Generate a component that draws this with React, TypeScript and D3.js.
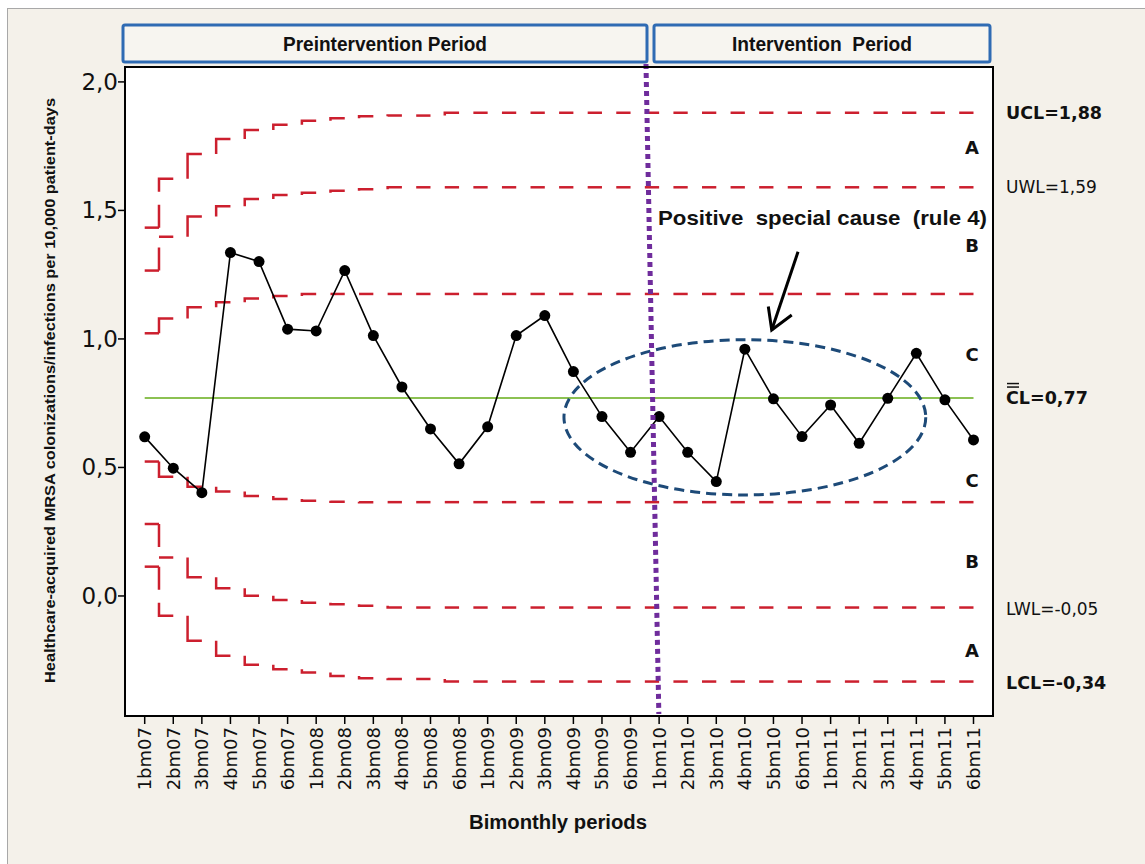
import React from 'react';
import * as d3 from 'd3';

const categories = [
  '1bm07', '2bm07', '3bm07', '4bm07', '5bm07', '6bm07',
  '1bm08', '2bm08', '3bm08', '4bm08', '5bm08', '6bm08',
  '1bm09', '2bm09', '3bm09', '4bm09', '5bm09', '6bm09',
  '1bm10', '2bm10', '3bm10', '4bm10', '5bm10', '6bm10',
  '1bm11', '2bm11', '3bm11', '4bm11', '5bm11', '6bm11',
];

const rates = [
  0.619, 0.497, 0.402, 1.336, 1.301, 1.038,
  1.031, 1.266, 1.013, 0.813, 0.65, 0.514,
  0.658, 1.013, 1.091, 0.873, 0.698, 0.559,
  0.698, 0.559, 0.445, 0.96, 0.767, 0.62,
  0.743, 0.594, 0.769, 0.944, 0.763, 0.607,
];

const centerLine = 0.77;

const ucl = [
  1.433, 1.623, 1.72, 1.778, 1.813, 1.833, 1.849, 1.859, 1.866, 1.869, 1.869,
  1.88, 1.88, 1.88, 1.88, 1.88, 1.88, 1.88, 1.88, 1.88, 1.88, 1.88, 1.88, 1.88,
  1.88, 1.88, 1.88, 1.88, 1.88, 1.88,
];
const uwl = [
  1.266, 1.398, 1.476, 1.516, 1.544, 1.56, 1.569, 1.577, 1.582,
  1.59, 1.59, 1.59, 1.59, 1.59, 1.59, 1.59, 1.59, 1.59, 1.59, 1.59, 1.59,
  1.59, 1.59, 1.59, 1.59, 1.59, 1.59, 1.59, 1.59, 1.59,
];
const upperSigma = [
  1.022, 1.08, 1.123, 1.143, 1.157, 1.167,
  1.175, 1.175, 1.175, 1.175, 1.175, 1.175, 1.175, 1.175, 1.175, 1.175, 1.175, 1.175,
  1.175, 1.175, 1.175, 1.175, 1.175, 1.175, 1.175, 1.175, 1.175, 1.175, 1.175, 1.175,
];
const lowerSigma = [
  0.523, 0.464, 0.425, 0.406, 0.389, 0.377, 0.37, 0.367,
  0.365, 0.365, 0.365, 0.365, 0.365, 0.365, 0.365, 0.365, 0.365, 0.365, 0.365,
  0.365, 0.365, 0.365, 0.365, 0.365, 0.365, 0.365, 0.365, 0.365, 0.365, 0.365,
];
const lwl = [
  0.28, 0.15, 0.073, 0.03, 0.001, -0.016, -0.026, -0.032, -0.038,
  -0.045, -0.045, -0.045, -0.045, -0.045, -0.045, -0.045, -0.045, -0.045, -0.045,
  -0.045, -0.045, -0.045, -0.045, -0.045, -0.045, -0.045, -0.045, -0.045, -0.045, -0.045,
];
const lcl = [
  0.114, -0.077, -0.174, -0.233, -0.268, -0.285, -0.298, -0.311, -0.32, -0.323, -0.323,
  -0.333, -0.333, -0.333, -0.333, -0.333, -0.333, -0.333, -0.333, -0.333, -0.333,
  -0.333, -0.333, -0.333, -0.333, -0.333, -0.333, -0.333, -0.333, -0.333,
];

const yTicks = [0, 0.5, 1.0, 1.5, 2.0];
const yTickLabels = ['0,0', '0,5', '1,0', '1,5', '2,0'];

const limitLabels = [
  { text: 'UCL=1,88', value: 1.88, bold: true },
  { text: 'UWL=1,59', value: 1.59, bold: false },
  { text: 'CL=0,77', value: 0.77, bold: true, bar: true },
  { text: 'LWL=-0,05', value: -0.05, bold: false },
  { text: 'LCL=-0,34', value: -0.34, bold: true },
];

const zoneLetters = ['A', 'B', 'C', 'C', 'B', 'A'];
const zoneLetterValues = [1.743, 1.362, 0.938, 0.451, 0.136, -0.214];

const periods = [
  { label: 'Preintervention Period', x0: 123, x1: 647, textLen: 204 },
  { label: 'Intervention  Period', x0: 654, x1: 990, textLen: 180 },
];

const W = 1145;
const H = 864;
const plotLeft = 125;
const plotRight = 993;
const plotTop = 67;
const plotBottom = 716;

const RED = '#cc1f2e';

export default function App() {
  const x = d3.scalePoint<string>().domain(categories).range([144.7, 973.5]);
  const xi = d3.scaleLinear().domain([0, categories.length - 1]).range([144.7, 973.5]);
  const y = d3.scaleLinear().domain([-0.467, 2.058]).range([plotBottom, plotTop]);

  const line = d3
    .line<number>()
    .x((_, i) => x(categories[i]) as number)
    .y((d) => y(d));

  const stepPieces = (levels: number[]) => {
    const out: string[] = [];
    const n = levels.length;
    const xs = levels.map((_, i) => x(categories[i]) as number);
    const mid0 = (xs[0] + xs[1]) / 2;
    out.push(`M${xs[0]},${y(levels[0])}H${mid0}`);
    for (let i = 1; i < n; i++) {
      const mx = (xs[i - 1] + xs[i]) / 2;
      const y0 = y(levels[i - 1]);
      const y1 = y(levels[i]);
      const V = Math.abs(y1 - y0);
      const s = y1 > y0 ? 1 : -1;
      const end = i === n - 1 ? xs[i] : Math.min(mx + 21.5, xs[i]);
      let d = '';
      if (V <= 28) {
        d = `M${mx},${y0}V${y1}H${end}`;
      } else {
        d = `M${mx},${y0}V${y0 + s * 23}`;
        if (V > 36) d += `M${mx},${y0 + s * 36}V${y1}`;
        else d += `M${mx},${y1}`;
        d += `H${end}`;
      }
      out.push(d);
    }
    return out;
  };

  const limitSeries = [ucl, uwl, upperSigma, lowerSigma, lwl, lcl];

  const ellipseCx = xi(21.0);
  const ellipseCy = y(0.695);
  const ellipseRx = xi(6.33) - xi(0);
  const ellipseRy = y(0) - y(0.302);

  const arrowTail = [xi(22.86), y(1.339)];
  const arrowTip = [xi(21.94), y(1.035)];
  const headA = [xi(21.82), y(1.126)];
  const headB = [xi(22.64), y(1.093)];

  const sans = "'DejaVu Sans', Verdana, sans-serif";
  const arial = "'Liberation Sans', Arial, sans-serif";

  return (
    <div style={{ position: 'absolute', left: 0, top: 0 }}>
      <svg width={W} height={H} viewBox={`0 0 ${W} ${H}`} style={{ display: 'block' }}>
        <rect x={0} y={0} width={W} height={H} fill="#ffffff" />
        <rect x={7.5} y={8.5} width={W + 10} height={H + 10} fill="#f4f1ea" stroke="#a8a8a8" strokeWidth={1} />

        {periods.map((p) => (
          <g key={p.label}>
            <rect x={p.x0} y={25} width={p.x1 - p.x0} height={37} fill="#f7f5f0" stroke="#2f6bb3" strokeWidth={3} rx={2} />
            <text
              x={(p.x0 + p.x1) / 2}
              y={44}
              textAnchor="middle"
              dominantBaseline="central"
              fontFamily={arial}
              fontWeight="bold"
              fontSize={20}
              textLength={p.textLen}
              lengthAdjust="spacingAndGlyphs"
              style={{ whiteSpace: 'pre' }}
              fill="#111"
            >
              {p.label}
            </text>
          </g>
        ))}

        <rect x={plotLeft} y={plotTop} width={plotRight - plotLeft} height={plotBottom - plotTop} fill="#ffffff" />

        {limitSeries.map((levels, k) => (
          <g key={k}>
            {stepPieces(levels).map((d, j) => (
              <path key={j} d={d} fill="none" stroke={RED} strokeWidth={2.5} strokeLinecap="butt" />
            ))}
          </g>
        ))}

        <line
          x1={x(categories[0])}
          x2={x(categories[categories.length - 1])}
          y1={y(centerLine)}
          y2={y(centerLine)}
          stroke="#8cc152"
          strokeWidth={2}
        />

        <path d={line(rates) || ''} fill="none" stroke="#000" strokeWidth={1.6} />
        {rates.map((v, i) => (
          <circle key={i} cx={x(categories[i])} cy={y(v)} r={5.5} fill="#000" />
        ))}

        <ellipse
          cx={ellipseCx}
          cy={ellipseCy}
          rx={ellipseRx}
          ry={ellipseRy}
          fill="none"
          stroke="#1d4a78"
          strokeWidth={3}
          strokeDasharray="10 6"
        />

        <line
          x1={xi(17.54)}
          y1={plotTop - 3}
          x2={xi(17.99)}
          y2={plotBottom - 2}
          stroke="#6f2c9c"
          strokeWidth={5}
          strokeDasharray="5 4"
        />

        <rect x={plotLeft} y={plotTop} width={plotRight - plotLeft} height={plotBottom - plotTop} fill="none" stroke="#000" strokeWidth={2} />

        <line x1={arrowTail[0]} y1={arrowTail[1]} x2={arrowTip[0]} y2={arrowTip[1]} stroke="#000" strokeWidth={3} />
        <polyline
          points={`${headA[0]},${headA[1]} ${arrowTip[0]},${arrowTip[1]} ${headB[0]},${headB[1]}`}
          fill="none"
          stroke="#000"
          strokeWidth={3}
        />
        <text
          x={658}
          y={217}
          dominantBaseline="central"
          fontFamily={arial}
          fontWeight="bold"
          fontSize={21}
          textLength={329}
          lengthAdjust="spacingAndGlyphs"
          style={{ whiteSpace: 'pre' }}
          fill="#111"
        >
          {'Positive  special cause  (rule 4)'}
        </text>

        {yTicks.map((t, i) => (
          <g key={t}>
            <line x1={plotLeft - 7} x2={plotLeft} y1={y(t)} y2={y(t)} stroke="#000" strokeWidth={1.5} />
            <text
              x={plotLeft - 7}
              y={y(t)}
              textAnchor="end"
              dominantBaseline="central"
              fontFamily={sans}
              fontSize={23}
              fill="#111"
            >
              {yTickLabels[i]}
            </text>
          </g>
        ))}

        {categories.map((c) => {
          const cx = x(c) as number;
          return (
            <g key={c}>
              <line x1={cx} x2={cx} y1={plotBottom} y2={plotBottom + 8} stroke="#000" strokeWidth={1.5} />
              <text
                transform={`translate(${cx},${plotBottom + 11}) rotate(-90)`}
                textAnchor="end"
                dominantBaseline="central"
                fontFamily={sans}
                fontSize={18}
                fill="#111"
              >
                {c}
              </text>
            </g>
          );
        })}

        <text
          x={558}
          y={822}
          textAnchor="middle"
          dominantBaseline="central"
          fontFamily={arial}
          fontWeight="bold"
          fontSize={20}
          textLength={178}
          lengthAdjust="spacingAndGlyphs"
          fill="#111"
        >
          Bimonthly periods
        </text>
        <text
          transform={`translate(50,${(98 + 683) / 2}) rotate(-90)`}
          textAnchor="middle"
          dominantBaseline="central"
          fontFamily={arial}
          fontWeight="bold"
          fontSize={14.5}
          textLength={585}
          lengthAdjust="spacingAndGlyphs"
          fill="#111"
        >
          Healthcare-acquired MRSA colonizations/infections per 10,000 patient-days
        </text>

        {zoneLetters.map((z, i) => (
          <text
            key={i}
            x={972}
            y={y(zoneLetterValues[i])}
            textAnchor="middle"
            dominantBaseline="central"
            fontFamily={sans}
            fontWeight="bold"
            fontSize={18}
            fill="#111"
          >
            {z}
          </text>
        ))}

        {limitLabels.map((l) => (
          <g key={l.text}>
            <text
              x={1006}
              y={y(l.value)}
              dominantBaseline="central"
              fontFamily={sans}
              fontWeight={l.bold ? 'bold' : 'normal'}
              fontSize={l.bold ? 17.5 : 17}
              fill="#111"
            >
              {l.text}
            </text>
            {l.bar ? (
              <g>
                <line x1={1007} x2={1019} y1={y(l.value) - 14.5} y2={y(l.value) - 14.5} stroke="#111" strokeWidth={1.5} />
                <line x1={1007} x2={1019} y1={y(l.value) - 11} y2={y(l.value) - 11} stroke="#111" strokeWidth={1.5} />
              </g>
            ) : null}
          </g>
        ))}
      </svg>
    </div>
  );
}
